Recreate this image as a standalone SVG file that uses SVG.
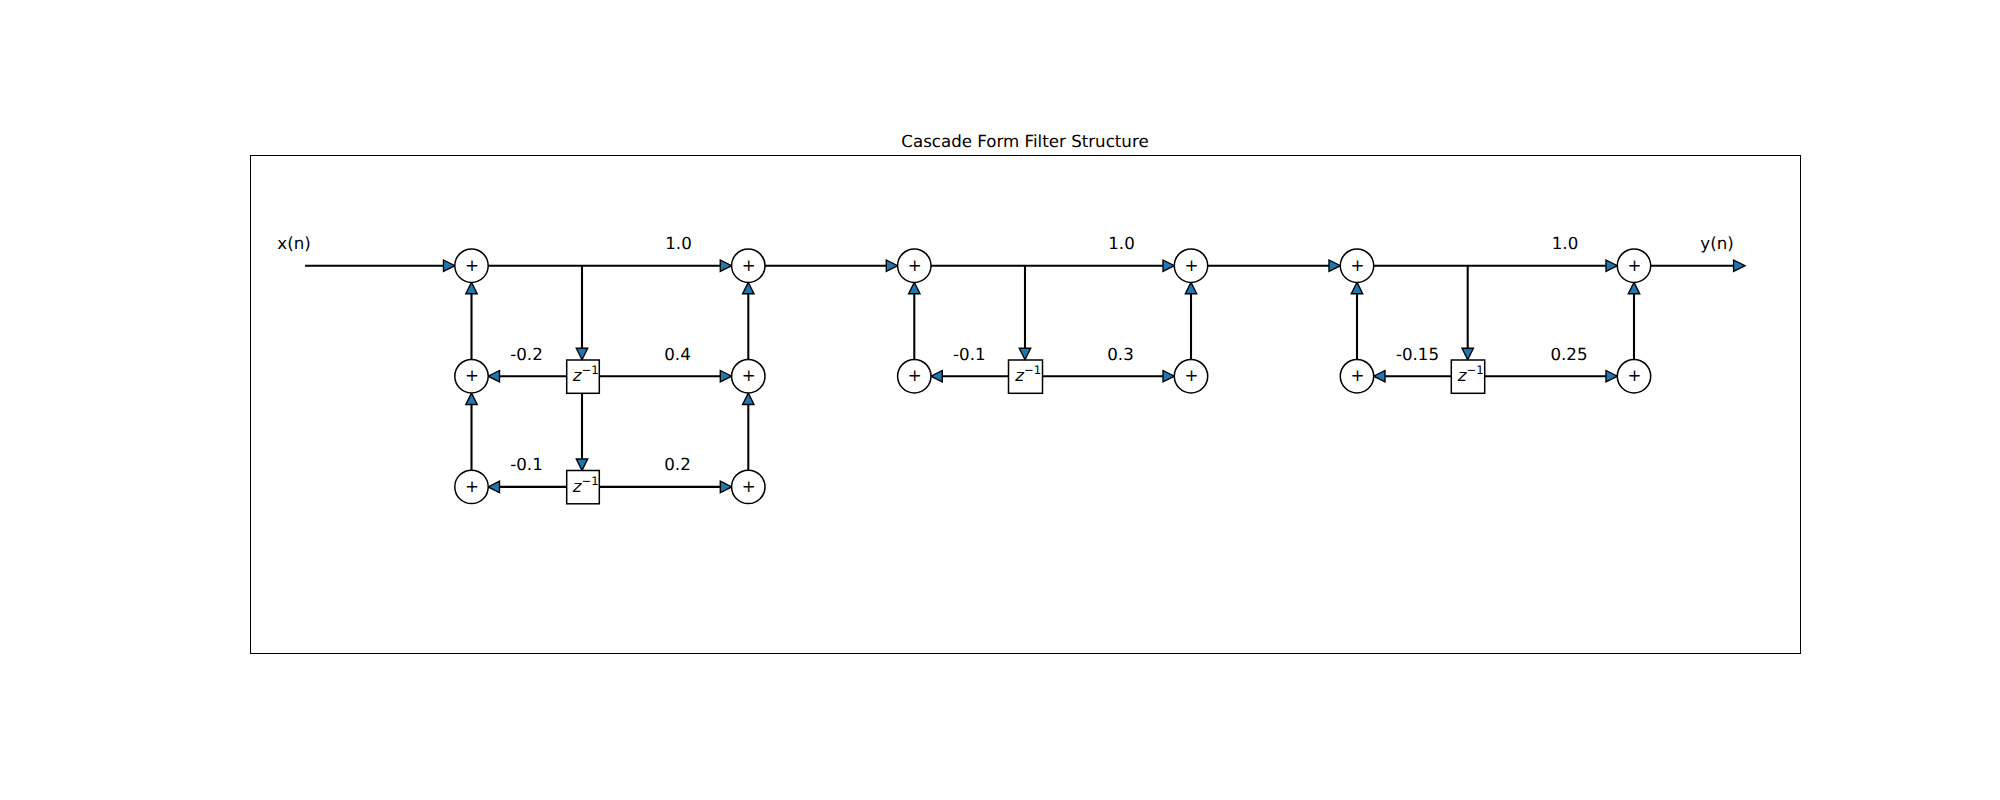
<svg xmlns="http://www.w3.org/2000/svg" width="2000" height="800" viewBox="0 0 2000 800">
<style>
text{font-family:"DejaVu Sans",sans-serif;font-size:16.67px;fill:#000;text-anchor:middle;text-rendering:geometricPrecision}
.c line{stroke:#000;stroke-width:2.08;fill:none;marker-end:url(#a)}
.n circle{fill:#fff;stroke:#000;stroke-width:1.5}
.n rect{fill:#fff;stroke:#000;stroke-width:1.5}
.n text.m{text-anchor:start}
.z{font-style:italic}
.s{font-size:11.67px}
</style>
<defs>
<marker id="a" markerUnits="userSpaceOnUse" markerWidth="16" markerHeight="16" viewBox="-2 -8 16 16" refX="0" refY="0" orient="auto">
<path d="M0,-5.7L11.4,0L0,5.7Z" fill="#1f77b4" stroke="#000" stroke-width="1.39"/>
</marker>
</defs>
<rect x="250.5" y="155.5" width="1550" height="498" fill="#fff" stroke="#000" stroke-width="1"/>
<text x="1025" y="146.5">Cascade Form Filter Structure</text>
<g id="connectors" class="c">
<line x1="305" y1="265.7" x2="443.5" y2="265.7"/>
<line x1="488.2" y1="265.7" x2="720.3" y2="265.7"/>
<line x1="765" y1="265.7" x2="886.3" y2="265.7"/>
<line x1="931" y1="265.7" x2="1163" y2="265.7"/>
<line x1="1207.7" y1="265.7" x2="1329" y2="265.7"/>
<line x1="1373.7" y1="265.7" x2="1606" y2="265.7"/>
<line x1="1650.7" y1="265.7" x2="1733.6" y2="265.7"/>
<line x1="582" y1="265.7" x2="582" y2="348.3"/>
<line x1="582" y1="393.3" x2="582" y2="459"/>
<line x1="1025" y1="265.7" x2="1025" y2="348.3"/>
<line x1="1467.7" y1="265.7" x2="1467.7" y2="348.3"/>
<line x1="566.7" y1="376.2" x2="499.5" y2="376.2"/>
<line x1="599.3" y1="376.2" x2="720.3" y2="376.2"/>
<line x1="566.7" y1="486.9" x2="499.5" y2="486.9"/>
<line x1="599.3" y1="486.9" x2="720.3" y2="486.9"/>
<line x1="1008.5" y1="376.2" x2="942.3" y2="376.2"/>
<line x1="1042.5" y1="376.2" x2="1163" y2="376.2"/>
<line x1="1451.3" y1="376.2" x2="1385" y2="376.2"/>
<line x1="1484.7" y1="376.2" x2="1606" y2="376.2"/>
<line x1="471.5" y1="359.5" x2="471.5" y2="293.8"/>
<line x1="471.5" y1="470.2" x2="471.5" y2="404.5"/>
<line x1="748.3" y1="359.5" x2="748.3" y2="293.8"/>
<line x1="748.3" y1="470.2" x2="748.3" y2="404.5"/>
<line x1="914.3" y1="359.5" x2="914.3" y2="293.8"/>
<line x1="1191" y1="359.5" x2="1191" y2="293.8"/>
<line x1="1357" y1="359.5" x2="1357" y2="293.8"/>
<line x1="1634" y1="359.5" x2="1634" y2="293.8"/>
</g>
<g id="s1" class="n"><circle cx="471.5" cy="265.7" r="16.7"/><text x="472" y="270.8">+</text></g>
<g id="s2" class="n"><circle cx="471.5" cy="376.2" r="16.7"/><text x="472" y="381.3">+</text></g>
<g id="s3" class="n"><circle cx="471.5" cy="486.9" r="16.7"/><text x="472" y="492">+</text></g>
<g id="s4" class="n"><circle cx="748.3" cy="265.7" r="16.7"/><text x="748.8" y="270.8">+</text></g>
<g id="s5" class="n"><circle cx="748.3" cy="376.2" r="16.7"/><text x="748.8" y="381.3">+</text></g>
<g id="s6" class="n"><circle cx="748.3" cy="486.9" r="16.7"/><text x="748.8" y="492">+</text></g>
<g id="s7" class="n"><circle cx="914.3" cy="265.7" r="16.7"/><text x="914.8" y="270.8">+</text></g>
<g id="s8" class="n"><circle cx="914.3" cy="376.2" r="16.7"/><text x="914.8" y="381.3">+</text></g>
<g id="s9" class="n"><circle cx="1191" cy="265.7" r="16.7"/><text x="1191.5" y="270.8">+</text></g>
<g id="s10" class="n"><circle cx="1191" cy="376.2" r="16.7"/><text x="1191.5" y="381.3">+</text></g>
<g id="s11" class="n"><circle cx="1357" cy="265.7" r="16.7"/><text x="1357.5" y="270.8">+</text></g>
<g id="s12" class="n"><circle cx="1357" cy="376.2" r="16.7"/><text x="1357.5" y="381.3">+</text></g>
<g id="s13" class="n"><circle cx="1634" cy="265.7" r="16.7"/><text x="1634.5" y="270.8">+</text></g>
<g id="s14" class="n"><circle cx="1634" cy="376.2" r="16.7"/><text x="1634.5" y="381.3">+</text></g>
<g id="z1" class="n"><rect x="566.7" y="360" width="32.6" height="33.3"/><text class="m" x="572.8" y="381"><tspan class="z">z</tspan><tspan class="s" dy="-7">−1</tspan></text></g>
<g id="z2" class="n"><rect x="566.7" y="470.5" width="32.6" height="33.3"/><text class="m" x="572.8" y="491.7"><tspan class="z">z</tspan><tspan class="s" dy="-7">−1</tspan></text></g>
<g id="z3" class="n"><rect x="1008.5" y="360" width="34" height="33.3"/><text class="m" x="1015.3" y="381"><tspan class="z">z</tspan><tspan class="s" dy="-7">−1</tspan></text></g>
<g id="z4" class="n"><rect x="1451.3" y="360" width="33.4" height="33.3"/><text class="m" x="1457.8" y="381"><tspan class="z">z</tspan><tspan class="s" dy="-7">−1</tspan></text></g>
<g id="labels">
<text x="294" y="249">x(n)</text>
<text x="1717" y="249">y(n)</text>
<text x="678.5" y="249">1.0</text>
<text x="1121.5" y="249">1.0</text>
<text x="1565" y="249">1.0</text>
<text x="526.5" y="360">-0.2</text>
<text x="677.5" y="360">0.4</text>
<text x="526.5" y="470">-0.1</text>
<text x="677.5" y="470">0.2</text>
<text x="969.3" y="360">-0.1</text>
<text x="1120.5" y="360">0.3</text>
<text x="1417.5" y="360">-0.15</text>
<text x="1569" y="360">0.25</text>
</g>
</svg>
